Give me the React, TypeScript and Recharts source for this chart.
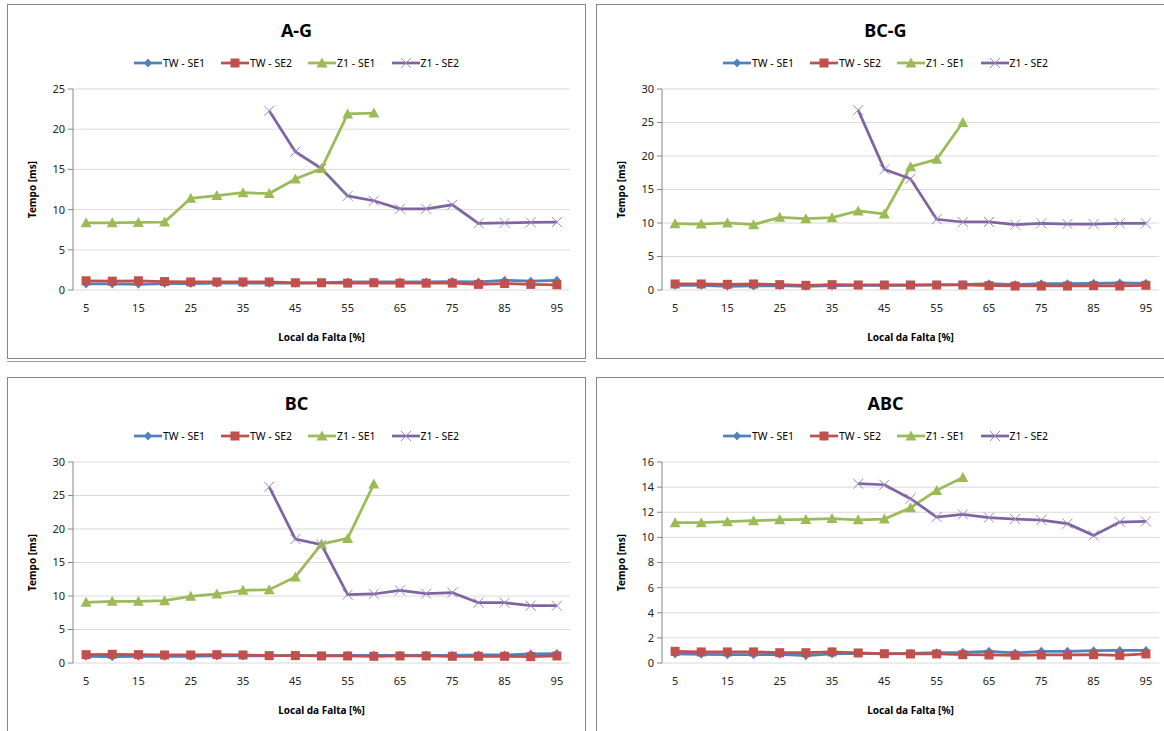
import React from 'react';
import { LineChart, Line, XAxis, YAxis, CartesianGrid, Legend } from 'recharts';

const FONT = '"Noto Sans", "Open Sans", sans-serif';

const categories = [5, 10, 15, 20, 25, 30, 35, 40, 45, 50, 55, 60, 65, 70, 75, 80, 85, 90, 95];
const xTickLabels = [5, 15, 25, 35, 45, 55, 65, 75, 85, 95];
const xTickBoundaries = [2.5, 7.5, 12.5, 17.5, 22.5, 27.5, 32.5, 37.5, 42.5, 47.5, 52.5, 57.5, 62.5, 67.5, 72.5, 77.5, 82.5, 87.5, 92.5, 97.5];
const seriesNames = ['TW - SE1', 'TW - SE2', 'Z1 - SE1', 'Z1 - SE2'];

// A-G
const agTwSe1 = [0.75, 0.75, 0.7, 0.8, 0.8, 0.85, 0.85, 0.85, 0.85, 0.9, 1.0, 1.0, 1.0, 1.0, 1.05, 1.0, 1.2, 1.1, 1.2];
const agTwSe2 = [1.15, 1.1, 1.15, 1.05, 1.0, 1.0, 1.0, 1.0, 0.9, 0.9, 0.85, 0.9, 0.85, 0.85, 0.85, 0.7, 0.8, 0.7, 0.65];
const agZ1Se1 = [8.35, 8.35, 8.4, 8.45, 11.4, 11.75, 12.1, 12.0, 13.8, 15.1, 21.9, 22.0, null, null, null, null, null, null, null];
const agZ1Se2 = [null, null, null, null, null, null, null, 22.3, 17.2, 15.1, 11.7, 11.1, 10.1, 10.1, 10.6, 8.3, 8.35, 8.4, 8.45];

// BC-G
const bcgTwSe1 = [0.7, 0.7, 0.55, 0.6, 0.65, 0.55, 0.65, 0.7, 0.7, 0.7, 0.75, 0.8, 0.95, 0.8, 0.95, 0.95, 1.0, 1.05, 1.0];
const bcgTwSe2 = [0.9, 0.9, 0.85, 0.9, 0.8, 0.7, 0.8, 0.75, 0.75, 0.75, 0.75, 0.75, 0.65, 0.6, 0.6, 0.6, 0.65, 0.6, 0.7];
const bcgZ1Se1 = [9.9, 9.85, 10.0, 9.75, 10.85, 10.65, 10.8, 11.8, 11.35, 18.4, 19.5, 25.0, null, null, null, null, null, null, null];
const bcgZ1Se2 = [null, null, null, null, null, null, null, 26.85, 18.0, 16.6, 10.55, 10.15, 10.15, 9.75, 9.95, 9.85, 9.85, 9.95, 9.95];

// BC
const bcTwSe1 = [1.0, 0.95, 1.0, 1.0, 1.0, 1.05, 1.05, 1.05, 1.15, 1.1, 1.15, 1.15, 1.15, 1.15, 1.15, 1.2, 1.2, 1.35, 1.4];
const bcTwSe2 = [1.25, 1.3, 1.25, 1.2, 1.2, 1.25, 1.2, 1.1, 1.1, 1.05, 1.05, 1.0, 1.05, 1.05, 1.0, 1.0, 1.0, 0.95, 1.05];
const bcZ1Se1 = [9.05, 9.2, 9.2, 9.3, 9.95, 10.3, 10.85, 10.95, 12.85, 17.75, 18.6, 26.7, null, null, null, null, null, null, null];
const bcZ1Se2 = [null, null, null, null, null, null, null, 26.3, 18.5, 17.65, 10.2, 10.3, 10.85, 10.35, 10.5, 9.0, 9.0, 8.55, 8.55];

// ABC
const abcTwSe1 = [0.72, 0.69, 0.66, 0.66, 0.69, 0.58, 0.72, 0.77, 0.72, 0.77, 0.82, 0.85, 0.93, 0.8, 0.93, 0.93, 0.98, 1.0, 1.0];
const abcTwSe2 = [0.93, 0.88, 0.88, 0.88, 0.82, 0.82, 0.88, 0.8, 0.74, 0.72, 0.72, 0.66, 0.64, 0.61, 0.64, 0.64, 0.66, 0.61, 0.72];
const abcZ1Se1 = [11.17, 11.17, 11.25, 11.33, 11.4, 11.43, 11.5, 11.4, 11.46, 12.36, 13.74, 14.77, null, null, null, null, null, null, null];
const abcZ1Se2 = [null, null, null, null, null, null, null, 14.27, 14.19, 13.08, 11.62, 11.83, 11.57, 11.46, 11.38, 11.09, 10.16, 11.22, 11.27];

const yTicks30 = [0, 5, 10, 15, 20, 25, 30];
const yTicks25 = [0, 5, 10, 15, 20, 25];
const yTicks16 = [0, 2, 4, 6, 8, 10, 12, 14, 16];

const KEYS = ['tw1', 'tw2', 'z1', 'z2'];
const COLORS: Record<string, string> = { tw1: '#4F81BD', tw2: '#C0504D', z1: '#9BBB59', z2: '#8064A2' };
const KINDS: Record<string, string> = { tw1: 'diamond', tw2: 'square', z1: 'triangle', z2: 'x' };

const AXIS_GRAY = '#868686';
const PANEL_W = 579;
const PANEL_H = 355;

function Marker({ kind, cx, cy }: { kind: string; cx: number; cy: number }) {
  if (kind === 'diamond') {
    return <path d={`M${cx},${cy - 4.5}L${cx + 4},${cy}L${cx},${cy + 4.5}L${cx - 4},${cy}Z`} fill={COLORS.tw1} />;
  }
  if (kind === 'square') {
    return <rect x={cx - 4.5} y={cy - 4.5} width={9} height={9} fill={COLORS.tw2} />;
  }
  if (kind === 'triangle') {
    return <path d={`M${cx},${cy - 5.5}L${cx + 5.5},${cy + 4.5}L${cx - 5.5},${cy + 4.5}Z`} fill={COLORS.z1} />;
  }
  return (
    <g stroke="#9c88c0" strokeWidth={1}>
      <line x1={cx - 5} y1={cy - 5} x2={cx + 5} y2={cy + 5} />
      <line x1={cx - 5} y1={cy + 5} x2={cx + 5} y2={cy - 5} />
    </g>
  );
}

function makeDot(kind: string) {
  return (props: any) => {
    const { cx, cy, index, value } = props;
    if (cx == null || cy == null || value == null || Number.isNaN(cy)) return <g key={`d-${index}`} />;
    return <Marker key={`d-${index}`} kind={kind} cx={cx} cy={cy} />;
  };
}

function LegendContent() {
  return (
    <div
      style={{
        display: 'flex',
        justifyContent: 'center',
        alignItems: 'center',
        height: 14,
        fontFamily: FONT,
        fontSize: 10.5,
        color: '#000',
        whiteSpace: 'nowrap',
      }}
    >
      {KEYS.map((k, i) => (
        <div key={k} style={{ display: 'flex', alignItems: 'center', marginRight: i < 3 ? 16 : 0 }}>
          <svg width={28} height={12} style={{ display: 'block' }}>
            <line x1={0} y1={6} x2={28} y2={6} stroke={COLORS[k]} strokeWidth={2.75} />
            <Marker kind={KINDS[k]} cx={14} cy={6} />
          </svg>
          <span style={{ marginLeft: 1 }}>{seriesNames[i]}</span>
        </div>
      ))}
    </div>
  );
}

function emptyTick(props: any) {
  return <g />;
}

function YLabel(props: any) {
  const vb = props.viewBox || {};
  const x = vb.x + 25;
  const y = vb.y + vb.height / 2;
  return (
    <text
      x={x}
      y={y}
      transform={`rotate(-90, ${x}, ${y})`}
      textAnchor="middle"
      dominantBaseline="central"
      fontFamily={FONT}
      fontSize={10}
      fontWeight="bold"
      fill="#000"
    >
      Tempo [ms]
    </text>
  );
}

function buildData(a: (number | null)[], b: (number | null)[], c: (number | null)[], d: (number | null)[]) {
  return categories.map((x, i) => ({ x, tw1: a[i], tw2: b[i], z1: c[i], z2: d[i] }));
}

function Panel({
  left,
  top,
  title,
  data,
  yMax,
  yTicks,
  shadow,
}: {
  left: number;
  top: number;
  title: string;
  data: any[];
  yMax: number;
  yTicks: number[];
  shadow?: boolean;
}) {
  return (
    <div style={{ position: 'absolute', left, top, width: PANEL_W, height: PANEL_H }}>
      <div
        style={{
          position: 'absolute',
          left: 0,
          top: 0,
          width: PANEL_W,
          height: PANEL_H,
          boxSizing: 'border-box',
          border: `1px solid ${AXIS_GRAY}`,
          background: '#fff',
          boxShadow: shadow ? '0 2px 0 -0px #fff, 0 3px 0 0 #9a9a9a' : undefined,
        }}
      />
      <div style={{ position: 'absolute', left: 0, top: 0 }}>
        <LineChart width={PANEL_W} height={PANEL_H} data={data} margin={{ top: 85, right: 16, left: 0, bottom: 0 }}>
          <CartesianGrid vertical={false} stroke="#d9d9d9" strokeWidth={1} />
          <XAxis
            xAxisId="marks"
            type="number"
            dataKey="x"
            domain={[2.5, 97.5]}
            allowDataOverflow
            ticks={xTickBoundaries}
            interval={0}
            height={0}
            tick={emptyTick}
            tickSize={5}
            tickLine={{ stroke: AXIS_GRAY }}
            axisLine={{ stroke: AXIS_GRAY }}
          />
          <XAxis
            xAxisId="main"
            type="number"
            dataKey="x"
            domain={[2.5, 97.5]}
            allowDataOverflow
            ticks={xTickLabels}
            interval={0}
            height={69}
            axisLine={false}
            tickLine={false}
            tickSize={6}
            tickMargin={8}
            tick={{ fontFamily: FONT, fontSize: 11, fill: '#222' }}
            label={{
              value: 'Local da Falta [%]',
              position: 'insideBottom',
              offset: 18,
              style: { fontFamily: FONT, fontSize: 10, fontWeight: 'bold', fill: '#000' },
            }}
          />
          <YAxis
            type="number"
            domain={[0, yMax]}
            ticks={yTicks}
            interval={0}
            width={66}
            tickSize={5}
            tickMargin={3}
            tickLine={{ stroke: AXIS_GRAY }}
            axisLine={{ stroke: AXIS_GRAY }}
            tick={{ fontFamily: FONT, fontSize: 11, fill: '#222' }}
            label={<YLabel />}
          />
          <Legend
            verticalAlign="top"
            align="center"
            content={<LegendContent />}
            wrapperStyle={{ position: 'absolute', top: 52, left: 0, width: PANEL_W, height: 0, overflow: 'visible' }}
          />
          {KEYS.map((k, i) => (
            <Line
              key={k}
              xAxisId="main"
              type="linear"
              dataKey={k}
              name={seriesNames[i]}
              stroke={COLORS[k]}
              strokeWidth={2.75}
              dot={makeDot(KINDS[k])}
              activeDot={false}
              connectNulls={false}
              isAnimationActive={false}
            />
          ))}
        </LineChart>
      </div>
      <div
        style={{
          position: 'absolute',
          left: 0,
          top: 13,
          width: PANEL_W,
          textAlign: 'center',
          fontFamily: FONT,
          fontSize: 18,
          fontWeight: 'bold',
          lineHeight: '26px',
          color: '#000',
          pointerEvents: 'none',
        }}
      >
        {title}
      </div>
    </div>
  );
}

export default function App() {
  return (
    <div style={{ position: 'absolute', left: 0, top: 0, width: 1164, height: 731, overflow: 'hidden', background: '#fff' }}>
      <Panel left={7} top={4} title="A-G" data={buildData(agTwSe1, agTwSe2, agZ1Se1, agZ1Se2)} yMax={25} yTicks={yTicks25} shadow />
      <Panel left={596} top={4} title="BC-G" data={buildData(bcgTwSe1, bcgTwSe2, bcgZ1Se1, bcgZ1Se2)} yMax={30} yTicks={yTicks30} />
      <Panel left={7} top={377} title="BC" data={buildData(bcTwSe1, bcTwSe2, bcZ1Se1, bcZ1Se2)} yMax={30} yTicks={yTicks30} />
      <Panel left={596} top={377} title="ABC" data={buildData(abcTwSe1, abcTwSe2, abcZ1Se1, abcZ1Se2)} yMax={16} yTicks={yTicks16} />
    </div>
  );
}
